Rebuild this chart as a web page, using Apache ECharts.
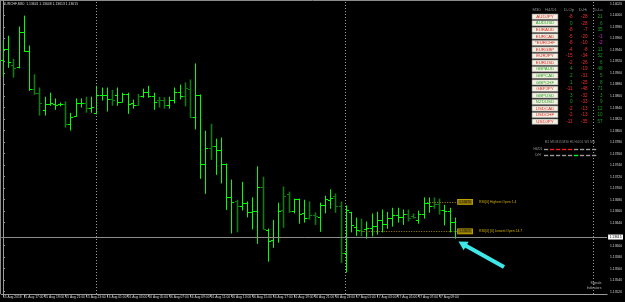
<!DOCTYPE html>
<html><head><meta charset="utf-8">
<script src="https://cdn.jsdelivr.net/npm/echarts@6/dist/echarts.min.js"></script>
<style>html,body{margin:0;padding:0;background:#000;}#c{width:625px;height:302px;}</style>
</head><body><div id="c"></div>
<script>
const symbol = 'EURCHF,M30';
const xTickLabels = ['15 Aug 2018','15 Aug 17:00','15 Aug 19:00','15 Aug 21:00','15 Aug 23:00','16 Aug 01:00','16 Aug 03:00','16 Aug 05:00','16 Aug 07:00','16 Aug 09:00','16 Aug 11:00','16 Aug 13:00','16 Aug 15:00','16 Aug 17:00','16 Aug 19:00','16 Aug 21:00','16 Aug 23:00','17 Aug 01:00','17 Aug 03:00','17 Aug 05:00','17 Aug 07:00','17 Aug 09:00'];
const barsPerLabel = 4;
const opens = [1.13923,1.13942,1.13914,1.13910,1.13971,1.13938,1.13872,1.13865,1.13836,1.13846,
1.13846,1.13846,1.13846,1.13811,1.13825,1.13848,1.13848,1.13839,1.13830,1.13862,
1.13862,1.13855,1.13862,1.13850,1.13863,1.13848,1.13844,1.13860,1.13867,1.13860,
1.13853,1.13853,1.13844,1.13853,1.13867,1.13860,1.13872,1.13823,1.13862,1.13742,
1.13770,1.13773,1.13766,1.13742,1.13684,1.13677,1.13669,1.13674,1.13658,1.13660,
1.13702,1.13627,1.13610,1.13615,1.13662,1.13690,1.13660,1.13681,1.13657,1.13648,
1.13653,1.13650,1.13670,1.13679,1.13686,1.13669,1.13587,1.13658,1.13632,1.13627,
1.13629,1.13630,1.13634,1.13644,1.13637,1.13648,1.13653,1.13650,1.13655,1.13651,
1.13644,1.13655,1.13674,1.13669,1.13672,1.13662,1.13660,1.13641];
const highs = [1.13956,1.13964,1.13924,1.13980,1.13999,1.13947,1.13897,1.13874,1.13858,1.13865,
1.13855,1.13848,1.13850,1.13830,1.13855,1.13855,1.13858,1.13858,1.13877,1.13874,
1.13874,1.13870,1.13874,1.13865,1.13865,1.13853,1.13863,1.13872,1.13877,1.13865,
1.13858,1.13857,1.13858,1.13874,1.13879,1.13883,1.13888,1.13916,1.13862,1.13799,
1.13811,1.13785,1.13787,1.13742,1.13714,1.13679,1.13710,1.13676,1.13683,1.13737,
1.13719,1.13629,1.13644,1.13674,1.13702,1.13693,1.13681,1.13681,1.13679,1.13676,
1.13657,1.13674,1.13686,1.13697,1.13690,1.13676,1.13669,1.13658,1.13648,1.13646,
1.13641,1.13655,1.13658,1.13662,1.13658,1.13665,1.13665,1.13662,1.13662,1.13655,
1.13660,1.13683,1.13683,1.13683,1.13681,1.13670,1.13665,1.13648];
const lows = [1.13895,1.13910,1.13893,1.13909,1.13938,1.13870,1.13863,1.13827,1.13827,1.13844,
1.13837,1.13843,1.13806,1.13801,1.13825,1.13841,1.13832,1.13832,1.13829,1.13853,
1.13834,1.13844,1.13844,1.13850,1.13830,1.13839,1.13844,1.13858,1.13858,1.13837,
1.13841,1.13839,1.13839,1.13848,1.13855,1.13843,1.13823,1.13803,1.13717,1.13691,
1.13750,1.13724,1.13709,1.13663,1.13622,1.13624,1.13662,1.13650,1.13629,1.13604,
1.13629,1.13573,1.13597,1.13606,1.13632,1.13658,1.13657,1.13639,1.13641,1.13646,
1.13637,1.13625,1.13657,1.13665,1.13658,1.13571,1.13554,1.13624,1.13618,1.13617,
1.13613,1.13617,1.13620,1.13624,1.13630,1.13634,1.13641,1.13637,1.13643,1.13648,
1.13639,1.13648,1.13658,1.13665,1.13655,1.13636,1.13624,1.13613];
const closes = [1.13942,1.13919,1.13909,1.13971,1.13938,1.13872,1.13865,1.13848,1.13846,1.13848,
1.13845,1.13846,1.13811,1.13823,1.13848,1.13848,1.13839,1.13841,1.13862,1.13862,
1.13855,1.13853,1.13850,1.13863,1.13846,1.13844,1.13860,1.13867,1.13860,1.13850,
1.13853,1.13844,1.13853,1.13867,1.13860,1.13874,1.13823,1.13862,1.13742,1.13770,
1.13773,1.13766,1.13742,1.13684,1.13676,1.13669,1.13674,1.13658,1.13660,1.13702,
1.13629,1.13608,1.13615,1.13660,1.13686,1.13660,1.13681,1.13655,1.13648,1.13653,
1.13651,1.13670,1.13681,1.13683,1.13669,1.13587,1.13662,1.13636,1.13627,1.13625,
1.13630,1.13634,1.13644,1.13637,1.13648,1.13653,1.13650,1.13655,1.13648,1.13650,
1.13655,1.13674,1.13669,1.13672,1.13662,1.13660,1.13641,1.13615];
const darkBars = [2,6,7,12,16,21,26,30,31,35,36,40,45,50,54,55,59,60,64,65,69,78,79,83,84];
const yTicks = [1.14020,1.14000,1.13980,1.13960,1.13940,1.13920,1.13900,1.13880,1.13860,1.13840,1.13820,1.13800,1.13780,1.13760,1.13740,1.13720,1.13700,1.13680,1.13660,1.13640,1.13600,1.13580,1.13560,1.13540,1.13520];
const daySeparators = [18, 66];
const highestOpen = 1.13676, lowestOpen = 1.13625;
const highestLabel = 'R30[0] Highest Open 1.4';
const lowestLabel = 'R30[0] [0] Lowest Open 14.7';

const pairs = ['AUDJPY','AUDUSD','EURAUD','EURCAD','*EURCHF','EURGBP','EURJPY','EURUSD','GBPAUD','GBPCAD','GBPCHF','GBPJPY','GBPUSD','NZDUSD','USDCAD','USDCHF','USDJPY'];
const dOp = [-8,0,-8,-5,-8,-4,-15,-2,4,2,1,-11,3,0,-2,-2,-11];
const dHi = [-28,-28,-7,-20,-10,-8,-34,-26,-19,-31,-25,-48,-32,-33,-13,-13,-35];
const dLo = [21,6,35,-1,-2,11,52,6,48,5,8,71,3,9,12,10,57];
const panelHeaders = ['M30','H4/D1','D-Op','D-Hi','D-Lo'];
const tfHeaders = 'M1 M5 M15 M30 H1 H4 D1 W1 MN';
const trendRows = [{name:'H4/D1', s:[0,-1,-1,-1,-1,0,0,0,0]},{name:'D/H', s:[0,0,0,0,0,1,0,0,0]}];

const FONT = 'Liberation Sans';
const X_MIN = -0.33, X_MAX = 116.34;
const chart = echarts.init(document.getElementById('c'), null, {renderer:'canvas'});
const darkSet = new Set(darkBars);
const row = i => [i, opens[i], highs[i], lows[i], closes[i]];
const allIdx = opens.map((_, i) => i);
const limeData = allIdx.filter(i => !darkSet.has(i)).map(row);
const darkData = allIdx.filter(i => darkSet.has(i)).map(row);
const last = opens.length - 1;

function makeRender(color, lw) {
  return function (params, api) {
    const i = api.value(0);
    const o = api.coord([i, api.value(1)]);
    const h = api.coord([i, api.value(2)]);
    const l = api.coord([i, api.value(3)]);
    const c = api.coord([i, api.value(4)]);
    const x = Math.round(h[0]) + (lw % 2 ? 0.5 : 0);
    const yo = Math.round(o[1]) + 0.5, yc = Math.round(c[1]) + 0.5;
    return {type:'group', children:[
      {type:'line', shape:{x1:x, y1:h[1]-0.5, x2:x, y2:l[1]+0.5}, style:{stroke:color, lineWidth:lw}},
      {type:'line', shape:{x1:x-2.6, y1:yo, x2:x, y2:yo}, style:{stroke:color, lineWidth:1}},
      {type:'line', shape:{x1:x, y1:yc, x2:x+2.6, y2:yc}, style:{stroke:color, lineWidth:1}}
    ]};
  };
}

const graphics = [];
graphics.push({type:'line', shape:{x1:0, y1:0.5, x2:625, y2:0.5}, style:{stroke:'#8a8a8a', lineWidth:1}});
graphics.push({type:'line', shape:{x1:0.5, y1:0, x2:0.5, y2:294}, style:{stroke:'#8a8a8a', lineWidth:1}});
graphics.push({type:'text', x:3, y:4, style:{text: symbol + '  ' + [opens[last],highs[last],lows[last],closes[last]].map(v=>v.toFixed(5)).join(' '), fill:'#d8d8d8', fontSize:3.4, fontFamily:FONT, verticalAlign:'middle'}});
const hdrX = [536.5, 551, 569, 583, 598];
panelHeaders.forEach((t, k) => graphics.push({type:'text', x:hdrX[k], y:10, style:{text:t, fill:'#8c8c8c', fontSize:4.2, fontFamily:FONT, align:'center', verticalAlign:'middle'}}));
const rowY = i => 16.7 + i * 6.56;
pairs.forEach((p, i) => {
  const y = rowY(i);
  const up = dOp[i] >= 0;
  graphics.push({type:'rect', shape:{x:532, y:y-2.7, width:26, height:5.4}, style:{fill:'#f4f0e2', stroke:'#7a7a7a', lineWidth:0.6}});
  graphics.push({type:'text', x:545, y:y, style:{text:p, fill: up ? '#2aa82a' : '#e02828', fontSize:4.4, fontFamily:FONT, align:'center', verticalAlign:'middle'}});
  graphics.push({type:'text', x:572.5, y:y, style:{text:String(dOp[i]), fill: dOp[i] >= 0 ? '#1fa81f' : '#f03030', fontSize:4.6, fontFamily:FONT, align:'right', verticalAlign:'middle'}});
  graphics.push({type:'text', x:587.5, y:y, style:{text:String(dHi[i]), fill: dHi[i] >= 0 ? '#1fa81f' : '#f03030', fontSize:4.6, fontFamily:FONT, align:'right', verticalAlign:'middle'}});
  graphics.push({type:'text', x:602.5, y:y, style:{text:String(dLo[i]), fill: dLo[i] >= 0 ? '#1f9a1f' : '#e020e0', fontSize:4.6, fontFamily:FONT, align:'right', verticalAlign:'middle'}});
});
graphics.push({type:'text', x:570, y:142.5, style:{text:tfHeaders, fill:'#8c8c8c', fontSize:3.2, fontFamily:FONT, align:'center', verticalAlign:'middle'}});
trendRows.forEach((r, j) => {
  const y = 149.5 + j * 6;
  graphics.push({type:'text', x:538, y:y, style:{text:r.name, fill:'#9a9a9a', fontSize:3.2, fontFamily:FONT, align:'center', verticalAlign:'middle'}});
  r.s.forEach((s, k) => {
    graphics.push({type:'rect', shape:{x:544 + k*6, y:y-0.7, width:4.2, height:1.4}, style:{fill: s < 0 ? '#ff1a1a' : (s > 0 ? '#00ff00' : '#9a9a9a')}});
  });
});
graphics.push({type:'text', x:596, y:283.5, style:{text:'Signals', fill:'#b0b0b0', fontSize:3.4, fontFamily:FONT, align:'center', verticalAlign:'middle'}});
graphics.push({type:'text', x:594, y:288, style:{text:'Indicators', fill:'#b0b0b0', fontSize:3.4, fontFamily:FONT, align:'center', verticalAlign:'middle'}});
graphics.push({type:'line', shape:{x1:504, y1:267, x2:465, y2:245.3}, style:{stroke:'#3ee8e8', lineWidth:4, lineCap:'butt'}});
graphics.push({type:'polygon', shape:{points:[[458.5,241.5],[468.6,241.8],[463.6,250.2]]}, style:{fill:'#3ee8e8'}});

function openLineLabel(value, text) {
  return {
    show:true, position:'end', distance:1,
    formatter: '{b|' + value.toFixed(5) + '}  {t|' + text + '}',
    rich:{
      b:{backgroundColor:'#8a7200', borderColor:'#d8b800', borderWidth:0.6, color:'#111', fontSize:3.2, fontFamily:FONT, padding:[0.8,1.5]},
      t:{color:'#d0ae00', fontSize:3.4, fontFamily:FONT}
    }
  };
}

const option = {
  backgroundColor:'#000',
  animation:false,
  grid:{left:0, top:0, width:609, height:294},
  xAxis:{
    type:'value', min:X_MIN, max:X_MAX,
    axisLine:{show:true, lineStyle:{color:'#9a9a9a', width:1}},
    axisTick:{show:true, length:3, customValues: xTickLabels.map((_, k) => k*barsPerLabel), lineStyle:{color:'#9a9a9a'}},
    axisLabel:{show:true, customValues: xTickLabels.map((_, k) => k*barsPerLabel), formatter: v => xTickLabels[Math.round(v/barsPerLabel)] || '', align:'left', margin:1.5, fontSize:3.3, fontFamily:FONT, color:'#d8d8d8'},
    splitLine:{show:false}
  },
  yAxis:{
    type:'value', position:'right', min:1.13516, max:1.14027,
    axisLine:{show:true, lineStyle:{color:'#9a9a9a', width:1}},
    axisTick:{show:true, length:2, customValues:yTicks, lineStyle:{color:'#9a9a9a'}},
    axisLabel:{show:true, customValues:yTicks, formatter: v => v.toFixed(5), margin:3, fontSize:3.3, fontFamily:FONT, color:'#d8d8d8'},
    splitLine:{show:false}
  },
  graphic: graphics,
  series:[
    {type:'custom', name:'dark', renderItem: makeRender('#127a12', 1.6), data:darkData,
     encode:{x:0, y:[1,2,3,4]}, z:2, silent:true,
     markLine:{symbol:'none', silent:true, animation:false, label:{show:false},
       lineStyle:{color:'#9a9a9a', type:[1,2], width:1},
       data: daySeparators.map(d => ({xAxis:d})).concat([{xAxis:113.66}])}
    },
    {type:'custom', name:'lime', renderItem: makeRender('#00ff00', 1), data:limeData,
     encode:{x:0, y:[1,2,3,4]}, z:3, silent:true,
     markLine:{symbol:'none', silent:true, animation:false,
       data:[
         [{coord:[X_MIN, closes[last]], lineStyle:{color:'#8c8c8c', type:'solid', width:1},
           label:{show:true, position:'end', distance:1, formatter: closes[last].toFixed(5), backgroundColor:'#ffffff', color:'#000', fontSize:3.3, fontFamily:FONT, padding:[1,1.5]}},
          {coord:[X_MAX, closes[last]]}],
         [{coord:[81.7, highestOpen], lineStyle:{color:'#a08a10', type:[1,1.5], width:1}, label: openLineLabel(highestOpen, highestLabel)}, {coord:[87.4, highestOpen]}],
         [{coord:[68.5, lowestOpen], lineStyle:{color:'#a08a10', type:[1,1.5], width:1}, label: openLineLabel(lowestOpen, lowestLabel)}, {coord:[87.4, lowestOpen]}]
       ]}
    }
  ]
};
chart.setOption(option);
</script>
</body></html>
